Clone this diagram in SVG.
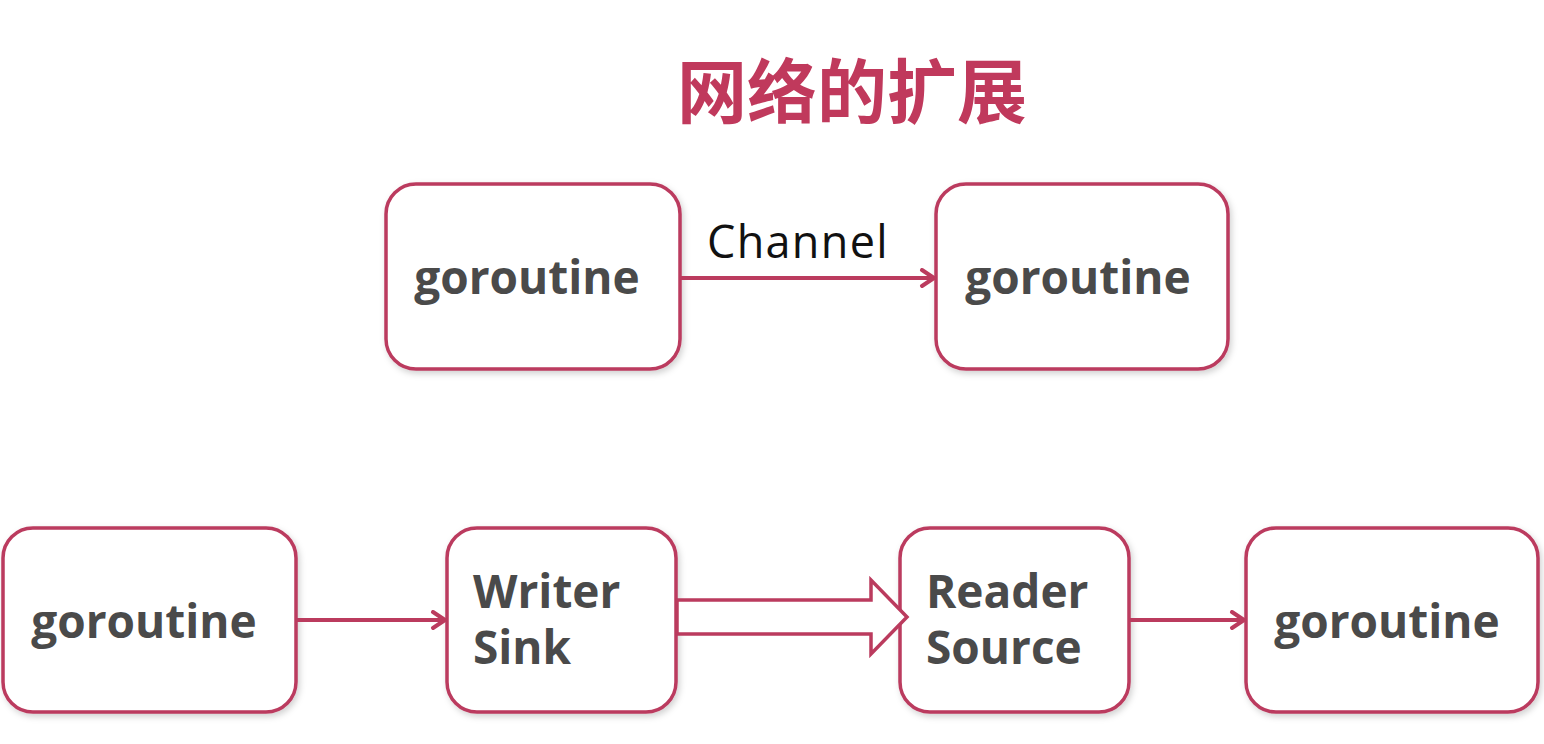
<svg xmlns="http://www.w3.org/2000/svg" width="1544" height="744" viewBox="0 0 1544 744">
<defs>
<style>
.box{fill:#fff;stroke:#bb3b5e;stroke-width:3.5}
.lbl{font-family:"Open Sans","Noto Sans","Liberation Sans",sans-serif;font-weight:700;font-size:46px;fill:#4a4a4a}
.edge{stroke:#bb3b5e;stroke-width:4;fill:none}
.title{font-family:"Noto Sans CJK SC","Noto Sans",sans-serif;font-weight:700;font-size:70px;fill:#c0395c}
.cap{font-family:"Open Sans","Noto Sans","Liberation Sans",sans-serif;font-size:45px;fill:#111;letter-spacing:1.3px}
</style>
<filter id="sh" x="-10%" y="-10%" width="120%" height="120%">
<feDropShadow dx="2" dy="3" stdDeviation="3" flood-color="#000" flood-opacity="0.18"/>
</filter>
<marker id="ah" markerWidth="18" markerHeight="20" refX="15" refY="10" orient="auto" markerUnits="userSpaceOnUse">
<path d="M3,2 L15,10 L3,18" fill="none" stroke="#bb3b5e" stroke-width="4" stroke-linecap="round" stroke-linejoin="round"/>
</marker>
</defs>
<rect width="1544" height="744" fill="#fff"/>
<text class="title" x="852" y="118" text-anchor="middle">网络的扩展</text>

<g id="n1"><rect class="box" filter="url(#sh)" x="386" y="184" width="294" height="185" rx="30"/><text class="lbl" x="527" y="294" text-anchor="middle">goroutine</text></g>
<g id="n2"><rect class="box" filter="url(#sh)" x="936" y="184" width="292" height="185" rx="30"/><text class="lbl" x="1078" y="294" text-anchor="middle">goroutine</text></g>
<g id="n3"><rect class="box" filter="url(#sh)" x="3" y="528" width="293" height="184" rx="30"/><text class="lbl" x="144" y="638" text-anchor="middle">goroutine</text></g>
<g id="n4"><rect class="box" filter="url(#sh)" x="447" y="528" width="229" height="184" rx="30"/><text class="lbl" x="473" y="608">Writer</text><text class="lbl" x="473" y="664">Sink</text></g>
<g id="n5"><rect class="box" filter="url(#sh)" x="900" y="528" width="229" height="184" rx="30"/><text class="lbl" x="926" y="608">Reader</text><text class="lbl" x="926" y="664">Source</text></g>
<g id="n6"><rect class="box" filter="url(#sh)" x="1246" y="528" width="292" height="184" rx="30"/><text class="lbl" x="1387" y="638" text-anchor="middle">goroutine</text></g>

<g id="connectors">
<line class="edge" x1="680" y1="278" x2="934" y2="278" marker-end="url(#ah)"/>
<text class="cap" x="707" y="258">Channel</text>
<line class="edge" x1="296" y1="620" x2="445" y2="620" marker-end="url(#ah)"/>
<line class="edge" x1="1129" y1="620" x2="1244" y2="620" marker-end="url(#ah)"/>
<path d="M677,600 L871,600 L871,580 L907,617 L871,654 L871,634 L677,634 Z" fill="#fff" stroke="#bb3b5e" stroke-width="3.5" stroke-linejoin="miter"/>
</g>
</svg>
